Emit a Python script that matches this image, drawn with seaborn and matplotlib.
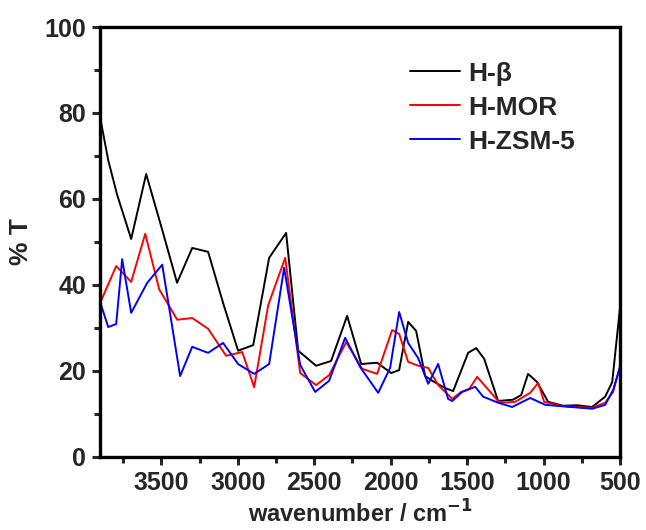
import matplotlib
matplotlib.use("Agg")
import matplotlib.pyplot as plt
import seaborn as sns
import pandas as pd
from matplotlib.ticker import MultipleLocator

# H-beta
wn_beta = [3900, 3847, 3789, 3697, 3599, 3494, 3397, 3298, 3194, 3096, 2998, 2899,
           2795, 2684, 2605, 2488, 2390, 2285, 2193, 2089, 1997, 1945, 1886, 1834,
           1775, 1729, 1644, 1592, 1494, 1441, 1389, 1298, 1200, 1147, 1102, 1043,
           971, 873, 781, 683, 598, 552, 500]
t_beta = [79, 69, 61, 50.7, 65.8, 52.8, 40.5, 48.6, 47.7, 35.8, 24.7, 26,
          46.3, 52.1, 24.7, 21.2, 22.3, 32.8, 21.6, 21.9, 19.5, 20.2, 31.4, 29.3,
          18.8, 17.7, 16, 15.3, 24.2, 25.3, 22.8, 13, 13.3, 14.4, 19.3, 17.4,
          12.8, 11.9, 12, 11.6, 14, 17.4, 35]

# H-MOR
wn_mor = [3900, 3795, 3697, 3605, 3514, 3396, 3298, 3194, 3076, 2971, 2893, 2801,
          2690, 2592, 2488, 2403, 2291, 2187, 2089, 1991, 1945, 1886, 1821, 1755,
          1690, 1598, 1540, 1487, 1435, 1383, 1298, 1265, 1187, 1088, 1036, 997,
          879, 683, 598, 546, 500]
t_mor = [35.8, 44.4, 40.7, 51.9, 39, 31.9, 32.3, 29.8, 23.5, 24.4, 16.2, 35.3,
         46.3, 19.5, 16.7, 19, 26.7, 20.5, 19.3, 29.5, 28.6, 22.1, 21.2, 20.7,
         16.7, 13.5, 15.1, 15.8, 18.6, 16.5, 13, 12.6, 12.8, 14.9, 17.2, 12.8,
         11.8, 11.4, 12.6, 15.1, 21.2]

# H-ZSM-5
wn_zsm = [3900, 3847, 3795, 3756, 3697, 3592, 3494, 3377, 3298, 3194, 3096, 2998,
          2893, 2795, 2697, 2592, 2494, 2403, 2298, 2200, 2082, 2004, 1945, 1886,
          1821, 1755, 1690, 1625, 1598, 1533, 1448, 1396, 1298, 1206, 1088, 990,
          683, 598, 546, 500]
t_zsm = [36, 30.2, 30.9, 46, 33.5, 40.5, 44.7, 18.8, 25.6, 24.2, 26.5, 21.6,
         19.3, 21.6, 44, 21.4, 15.1, 17.7, 27.7, 20.9, 14.9, 20.7, 33.7, 26.5,
         23, 17, 21.6, 13.5, 13, 15.1, 16.3, 14, 12.6, 11.6, 13.7, 12.1,
         11.2, 12.1, 15.6, 21]

labels = ["H-β", "H-MOR", "H-ZSM-5"]
colors = ["black", "red", "blue"]

df = pd.concat([
    pd.DataFrame({"wn": wn_beta, "T": t_beta, "sample": labels[0]}),
    pd.DataFrame({"wn": wn_mor, "T": t_mor, "sample": labels[1]}),
    pd.DataFrame({"wn": wn_zsm, "T": t_zsm, "sample": labels[2]}),
])

sns.set_style("white")
plt.rcParams["font.family"] = ["Liberation Sans", "DejaVu Sans"]
plt.rcParams["font.weight"] = "bold"
plt.rcParams["mathtext.default"] = "bf"

fig, ax = plt.subplots(figsize=(6.46, 5.30), dpi=100)
fig.subplots_adjust(left=0.155, right=0.96, top=0.949, bottom=0.138)

sns.lineplot(data=df, x="wn", y="T", hue="sample", palette=colors,
             sort=False, estimator=None, linewidth=1.4, ax=ax)

ax.set_xlim(3900, 500)
ax.set_ylim(0, 100)
ax.set_xticks([3500, 3000, 2500, 2000, 1500, 1000, 500])
ax.xaxis.set_minor_locator(MultipleLocator(250))
ax.yaxis.set_major_locator(MultipleLocator(20))
ax.yaxis.set_minor_locator(MultipleLocator(10))

for s in ax.spines.values():
    s.set_linewidth(2.4)
    s.set_color("black")

ax.tick_params(which="major", direction="out", length=6, width=2.2,
               labelsize=18, bottom=True, left=True, top=False, right=False, pad=4)
ax.tick_params(which="minor", direction="out", length=4, width=2.2,
               bottom=True, left=True, top=False, right=False)
for lab in ax.get_xticklabels() + ax.get_yticklabels():
    lab.set_fontweight("bold")

ax.set_xlabel("wavenumber / cm$^{-1}$", fontsize=17, fontweight="bold", labelpad=4)
ax.set_ylabel("% T", fontsize=19, fontweight="bold", labelpad=8)

leg = ax.legend(loc="upper left", bbox_to_anchor=(0.55, 0.975), frameon=False,
                fontsize=19, handlelength=1.9, handletextpad=0.3, labelspacing=0.38)
for t in leg.get_texts():
    t.set_fontweight("bold")

fig.savefig("out.png", dpi=100)
